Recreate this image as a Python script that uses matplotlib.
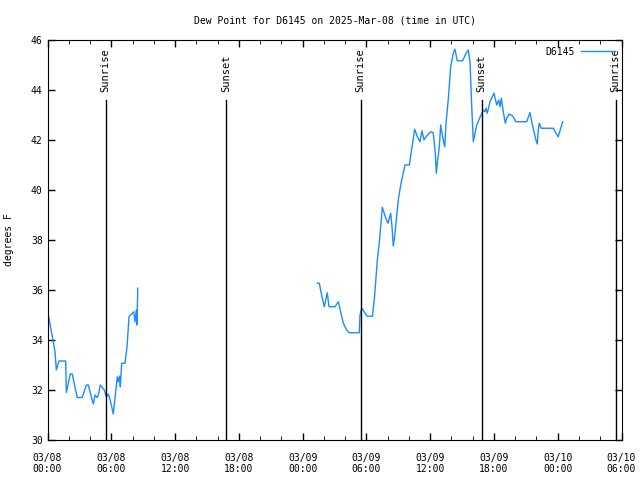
import numpy as np
import pandas as pd
import matplotlib
matplotlib.use('Agg')
import matplotlib.pyplot as plt
import matplotlib.dates as mdates

# hours since 2025-03-08 00:00 UTC, dew point (F)
hours_a = [0.14, 0.33, 0.52, 0.71, 0.83, 0.96, 1.08, 1.71, 1.77, 1.90, 2.14, 2.33,
           2.59, 2.80, 3.27, 3.65, 3.84, 4.16, 4.31, 4.47, 4.66, 4.78, 4.97, 5.16,
           5.34, 5.53, 5.72, 5.85, 6.04, 6.19, 6.35, 6.57, 6.66, 6.79, 6.85, 6.98,
           7.29, 7.48, 7.67, 7.79, 8.11, 8.23, 8.35, 8.42, 8.49]
dew_a = [34.9, 34.4, 34.0, 33.5, 32.8, 33.0, 33.16, 33.16, 31.9, 32.16, 32.64, 32.64,
         32.1, 31.7, 31.7, 32.2, 32.2, 31.67, 31.44, 31.8, 31.7, 31.8, 32.2, 32.1,
         32.0, 31.73, 31.84, 31.67, 31.33, 31.04, 31.67, 32.53, 32.33, 32.56, 32.13, 33.07,
         33.07, 33.73, 34.93, 35.0, 35.13, 34.73, 35.2, 34.6, 36.07]

hours_b = [25.38, 25.57, 25.82, 26.04, 26.32, 26.48, 27.05, 27.36, 27.58, 27.83, 28.15,
           28.39, 29.33, 29.40, 29.56, 30.08, 30.57, 30.76, 31.03, 31.21, 31.50, 31.78,
           32.03, 32.29, 32.41, 32.53, 32.66, 32.78, 33.00, 33.23, 33.47, 33.63, 34.04,
           34.29, 34.54, 34.79, 35.04, 35.23, 35.42, 35.61, 36.05, 36.29, 36.48, 36.58,
           36.67, 36.86, 36.99, 37.11, 37.23, 37.37, 37.49, 37.70, 37.93, 38.17, 38.33,
           38.55, 39.06, 39.37, 39.59, 39.75, 39.91, 40.06, 40.19, 40.38, 40.69, 41.00,
           41.16, 41.25, 41.37, 41.63, 42.00, 42.26, 42.45, 42.57, 42.69, 42.88, 43.07,
           43.20, 43.44, 43.76, 44.07, 45.08, 45.39, 45.58, 45.77, 45.95, 46.08, 46.17,
           46.27, 46.45, 47.58, 47.84, 48.05, 48.28, 48.47]
dew_b = [36.27, 36.27, 35.73, 35.33, 35.89, 35.33, 35.33, 35.53, 35.13, 34.67, 34.4,
         34.29, 34.29, 35.0, 35.27, 34.95, 34.95, 35.7, 37.2, 37.87, 39.31, 38.93,
         38.67, 39.07, 38.53, 37.76, 38.13, 38.67, 39.6, 40.2, 40.67, 41.0, 41.0,
         41.73, 42.43, 42.13, 41.93, 42.37, 42.0, 42.13, 42.33, 42.29, 41.47, 40.67,
         41.07, 41.73, 42.6, 42.27, 42.0, 41.73, 42.67, 43.6, 44.93, 45.47, 45.63,
         45.17, 45.17, 45.47, 45.6, 45.13, 43.33, 41.93, 42.2, 42.6, 42.91, 43.2,
         43.13, 43.27, 43.07, 43.53, 43.87, 43.4, 43.6, 43.33, 43.67, 43.13, 42.67,
         42.87, 43.04, 42.96, 42.73, 42.73, 43.1, 42.67, 42.33, 42.0, 41.84, 42.4,
         42.67, 42.47, 42.47, 42.27, 42.13, 42.47, 42.73]

sun_hours = [5.47, 16.8, 29.45, 40.85, 53.45]
sun_labels = ['Sunrise', 'Sunset', 'Sunrise', 'Sunset', 'Sunrise']

start = pd.Timestamp('2025-03-08 00:00')
# gap in the record -> NaN so the line breaks
hrs = hours_a + [8.6] + hours_b
vals = dew_a + [np.nan] + dew_b
times = np.array([start + pd.Timedelta(hours=h) for h in hrs])

plt.rcParams['font.family'] = 'DejaVu Sans Mono'
fig = plt.figure(figsize=(6.4, 4.8), dpi=100)
ax = fig.add_axes([47.5 / 640, 40 / 480, 574 / 640, 400 / 480])

ax.plot(times, vals, color='#1a8cff', lw=1, label='D6145')

for h, lab in zip(sun_hours, sun_labels):
    x = start + pd.Timedelta(hours=h)
    ax.plot([x, x], [30, 43.6], color='black', lw=1)
    ax.text(x, 43.92, lab, rotation=90, ha='center', va='bottom', fontsize=7.5)

ax.set_xlim(start, start + pd.Timedelta(hours=54))
ax.set_ylim(30, 46)
ax.set_yticks(np.arange(30, 47, 2))
ax.xaxis.set_major_locator(mdates.HourLocator(byhour=[0, 6, 12, 18]))
ax.xaxis.set_minor_locator(mdates.HourLocator(byhour=range(0, 24, 2)))
ax.xaxis.set_major_formatter(mdates.DateFormatter('%m/%d\n%H:%M'))
ax.tick_params(direction='in', top=True, right=True, labelsize=7, length=5, width=1)
ax.tick_params(axis='x', pad=9)
ax.tick_params(which='minor', direction='in', top=True, length=3)
for lbl in ax.get_xticklabels():
    lbl.set_linespacing(1.25)

ax.set_ylabel('degrees F', fontsize=7, labelpad=12)
ax.set_title('Dew Point for D6145 on 2025-Mar-08 (time in UTC)', fontsize=7, pad=12)
ax.legend(loc='upper right', frameon=False, markerfirst=False, handlelength=3.5,
          fontsize=7, borderaxespad=0.3, handletextpad=0.6)

fig.savefig('out.png', dpi=100)
